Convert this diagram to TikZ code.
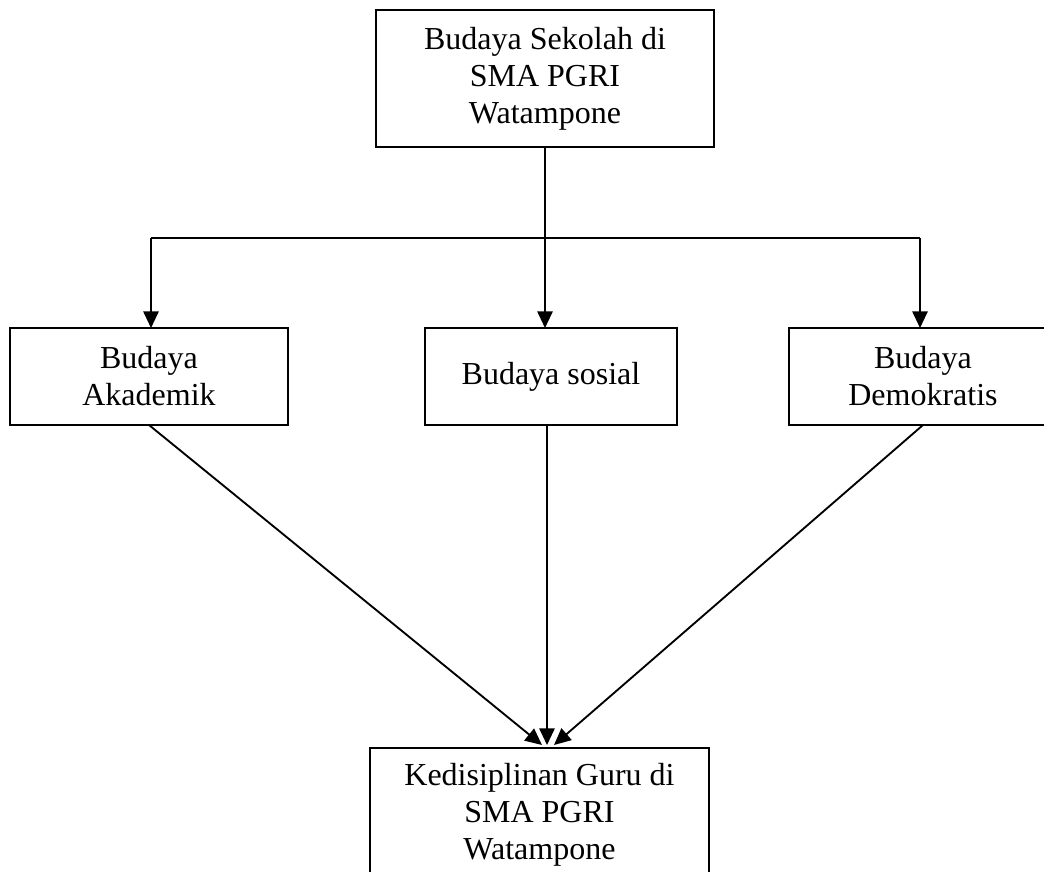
\documentclass[tikz,border=0pt]{standalone}
\usepackage{fontspec}
\setmainfont{Liberation Serif}
\usetikzlibrary{arrows.meta,calc}
\begin{document}
\begin{tikzpicture}[x=0.75pt,y=-0.75pt,
  kotak/.style={draw,line width=1.3pt,inner sep=0pt,outer sep=0pt,align=center,
    minimum height=72.75pt,font=\fontsize{24}{27.75}\selectfont},
  panah/.style={line width=1.4pt,-{Triangle[length=12.5pt,width=11.5pt]}}]
\useasboundingbox (0,0) rectangle (1044,871);
\node [kotak,minimum width=253.5pt,minimum height=102.75pt] (top) at (545,78.5) {Budaya Sekolah di\\SMA PGRI\\Watampone};
\node [kotak,minimum width=208.5pt] (akad) at (149,376.5) {Budaya\\Akademik};
\node [kotak,minimum width=189pt] (sosial) at (551,376.5) {Budaya sosial};
\node [kotak,minimum width=201pt] (demo) at (923,376.5) {Budaya\\Demokratis};
\node [kotak,minimum width=254.25pt,minimum height=100.5pt] (guru) at (539.5,815) {Kedisiplinan Guru di\\SMA PGRI\\Watampone};
\coordinate (bagi) at (top.south |- 0,238);
\coordinate (kiri) at (151,238);
\coordinate (kanan) at (920,238);
\coordinate (tipa) at (542,745);
\coordinate (tipb) at (547,745);
\coordinate (tipc) at (554,745);
\draw [line width=1.3pt] (top.south) -- (bagi);
\draw [line width=1.3pt] (kiri) -- (kanan);
\draw [panah] (kiri) -- (kiri |- akad.north);
\draw [panah] (bagi) -- (bagi |- sosial.north);
\draw [panah] (kanan) -- (kanan |- demo.north);
\draw [panah] (akad.south) -- (tipa);
\draw [panah] (tipb |- sosial.south) -- (tipb);
\draw [panah] (demo.south) -- (tipc);
\end{tikzpicture}
\end{document}
